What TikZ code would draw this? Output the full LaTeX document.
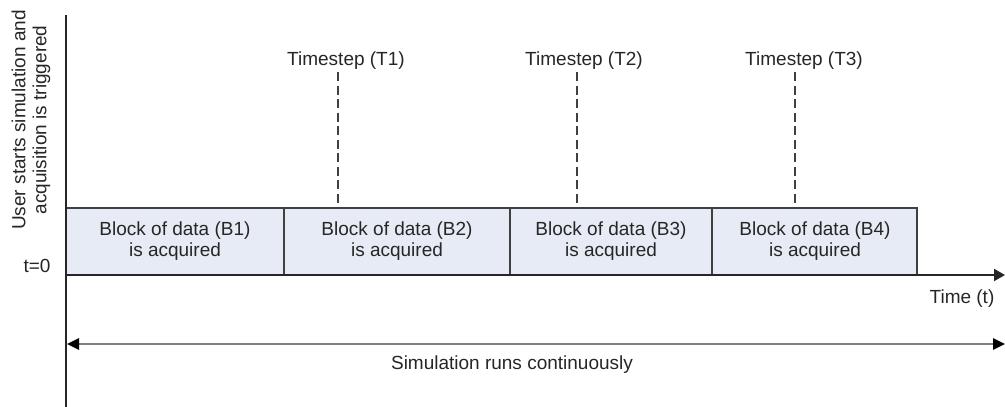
\documentclass[tikz,border=0pt]{standalone}
\usepackage{fontspec}
\setmainfont{Liberation Sans}
\usetikzlibrary{arrows.meta}
\definecolor{boxfill}{HTML}{E6EBF5}
\definecolor{txtcol}{HTML}{262626}
\begin{document}
\begin{tikzpicture}[x=1pt,y=-1pt,
  lbl/.style={font=\fontsize{19}{21}\selectfont, text=txtcol, inner sep=0pt, align=center},
  blockbox/.style={draw=black!75, line width=1.3pt, fill=boxfill},
  tsline/.style={draw=black!75, line width=1.3pt, dash pattern=on 9pt off 4.5pt}]
\useasboundingbox (0,0) rectangle (1005,407);
% blocks
\draw[blockbox] (66,208) rectangle (284,275);
\draw[blockbox] (284,208) rectangle (510,275);
\draw[blockbox] (510,208) rectangle (712,275);
\draw[blockbox] (712,208) rectangle (917,275);
\node[lbl] (B1) at (175,241) {Block of data (B1)\\is acquired};
\node[lbl] (B2) at (397,241) {Block of data (B2)\\is acquired};
\node[lbl] (B3) at (611,241) {Block of data (B3)\\is acquired};
\node[lbl] (B4) at (815,241) {Block of data (B4)\\is acquired};
% time axis
\coordinate (ts) at (66,275); \coordinate (te) at (1005,275);
\draw[black!85, line width=2pt, -{Triangle[length=11pt,width=12pt]}] (ts) -- (te);
\node[lbl, anchor=base] (time) at (962,303) {Time (t)};
% vertical axis
\coordinate (vt) at (66,15); \coordinate (vb) at (66,407);
\draw[black!85, line width=2pt] (vt) -- (vb);
% timesteps
\node[lbl, anchor=base] (T1) at (346,65) {Timestep (T1)};
\node[lbl, anchor=base] (T2) at (584,65) {Timestep (T2)};
\node[lbl, anchor=base] (T3) at (804,65) {Timestep (T3)};
\coordinate (u1) at (338,72); \coordinate (d1) at (338,208);
\coordinate (u2) at (577,72); \coordinate (d2) at (577,208);
\coordinate (u3) at (795,72); \coordinate (d3) at (795,208);
\draw[tsline] (u1) -- (d1);
\draw[tsline] (u2) -- (d2);
\draw[tsline] (u3) -- (d3);
% left labels
\node[lbl, rotate=90] (user) at (31,120) {User starts simulation and\\acquisition is triggered};
\node[lbl, anchor=base] (t0) at (37,272) {t=0};
% simulation arrow
\coordinate (sa) at (67,344); \coordinate (sb) at (1005,344);
\draw[black!50, line width=2.5pt, {Triangle[length=12pt,width=11pt,fill=black,color=black]}-{Triangle[length=12pt,width=11pt,fill=black,color=black]}] (sa) -- (sb);
\node[lbl, anchor=base] (sim) at (512,369) {Simulation runs continuously};
\end{tikzpicture}
\end{document}
